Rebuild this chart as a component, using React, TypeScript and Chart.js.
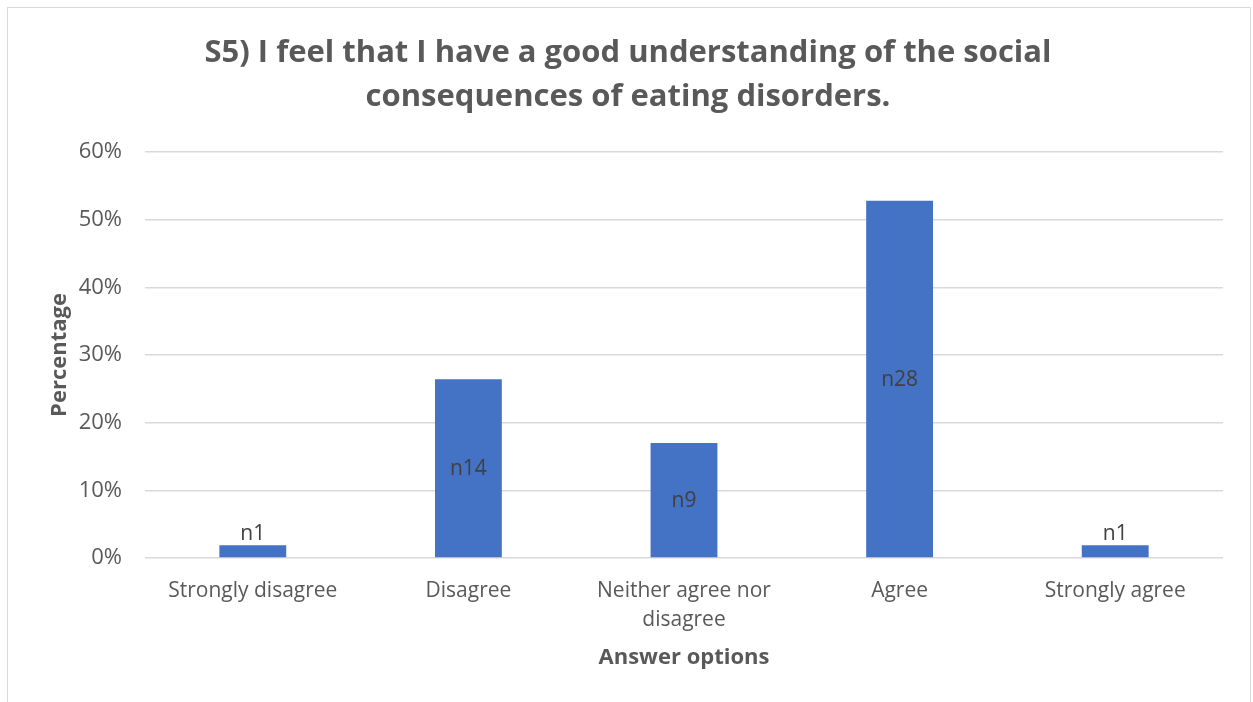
import React, { useEffect, useRef } from "react";
import { Chart, registerables } from "chart.js";

Chart.register(...registerables);

// Survey answers, share of respondents (%) and respondent counts
const categories: (string | string[])[] = [
  "Strongly disagree",
  "Disagree",
  ["Neither agree nor", "disagree"],
  "Agree",
  "Strongly agree",
];
const percentages = [1.9, 26.4, 17.0, 52.8, 1.9];
const counts = [1, 14, 9, 28, 1];
const titleLines = [
  "S5) I feel that I have a good understanding of the social",
  "consequences of eating disorders.",
];
const yAxisTitle = "Percentage";
const xAxisTitle = "Answer options";

const FONT = "'Open Sans', 'Noto Sans', sans-serif";
const TEXT = "#595959";

// Draws "nX" labels: centred inside tall bars, above short ones
const countLabels = {
  id: "countLabels",
  afterDatasetsDraw(chart: any) {
    const { ctx } = chart;
    const meta = chart.getDatasetMeta(0);
    ctx.save();
    ctx.font = `21px ${FONT}`;
    ctx.fillStyle = "#404040";
    ctx.textAlign = "center";
    meta.data.forEach((bar: any, i: number) => {
      const label = "n" + counts[i];
      const h = bar.base - bar.y;
      if (h > 30) {
        ctx.textBaseline = "middle";
        ctx.fillText(label, bar.x, (bar.y + bar.base) / 2 + 1);
      } else {
        ctx.textBaseline = "alphabetic";
        ctx.fillText(label, bar.x, bar.y - 5);
      }
    });
    ctx.restore();
  },
};

export default function App() {
  const canvasRef = useRef<HTMLCanvasElement | null>(null);

  useEffect(() => {
    const canvas = canvasRef.current;
    if (!canvas) return;
    const chart = new Chart(canvas, {
      type: "bar",
      data: {
        labels: categories as any,
        datasets: [
          {
            data: percentages,
            backgroundColor: "#4472C4",
            barPercentage: 0.31,
            categoryPercentage: 1,
          },
        ],
      },
      options: {
        animation: false,
        responsive: false,
        maintainAspectRatio: false,
        devicePixelRatio: 1,
        layout: { padding: { left: 33, right: 30, top: 0, bottom: 0 } },
        plugins: {
          legend: { display: false },
          tooltip: { enabled: false },
          title: {
            display: true,
            text: titleLines,
            color: TEXT,
            font: { family: FONT, size: 31, weight: "bold", lineHeight: 44 / 31 },
            padding: { top: 31, bottom: 33 },
          },
        },
        scales: {
          x: {
            grid: { display: false, drawTicks: false },
            border: { display: false },
            ticks: {
              color: TEXT,
              font: { family: FONT, size: 21, lineHeight: 29 / 21 },
              padding: 19,
              maxRotation: 0,
              autoSkip: false,
            },
            title: {
              display: true,
              text: xAxisTitle,
              color: TEXT,
              font: { family: FONT, size: 22, weight: "bold" },
              padding: { top: 0, bottom: 31 },
            },
            afterFit: (scale: any) => {
              scale.height = 144;
            },
          },
          y: {
            min: 0,
            max: 60,
            grid: { color: "#D9D9D9", lineWidth: 1.5, drawTicks: false },
            border: { display: false },
            ticks: {
              stepSize: 10,
              color: TEXT,
              font: { family: FONT, size: 22 },
              padding: 23,
              callback: (v: any) => v + "%",
            },
            title: {
              display: true,
              text: yAxisTitle,
              color: TEXT,
              font: { family: FONT, size: 22, weight: "bold" },
              padding: { top: 14, bottom: 0 },
            },
            afterFit: (scale: any) => {
              scale.width = 112;
            },
          },
        },
      },
      plugins: [countLabels],
    });
    return () => chart.destroy();
  }, []);

  return (
    <div
      style={{
        position: "fixed",
        left: 0,
        top: 0,
        width: 1253,
        height: 702,
        overflow: "hidden",
        background: "#ffffff",
      }}
    >
      <canvas
        ref={canvasRef}
        width={1253}
        height={702}
        style={{ position: "absolute", left: 0, top: 0, width: 1253, height: 702 }}
      />
      <div
        style={{
          position: "absolute",
          left: 7,
          top: 7,
          width: 1242,
          height: 800,
          border: "1px solid #D9D9D9",
          pointerEvents: "none",
        }}
      />
    </div>
  );
}
